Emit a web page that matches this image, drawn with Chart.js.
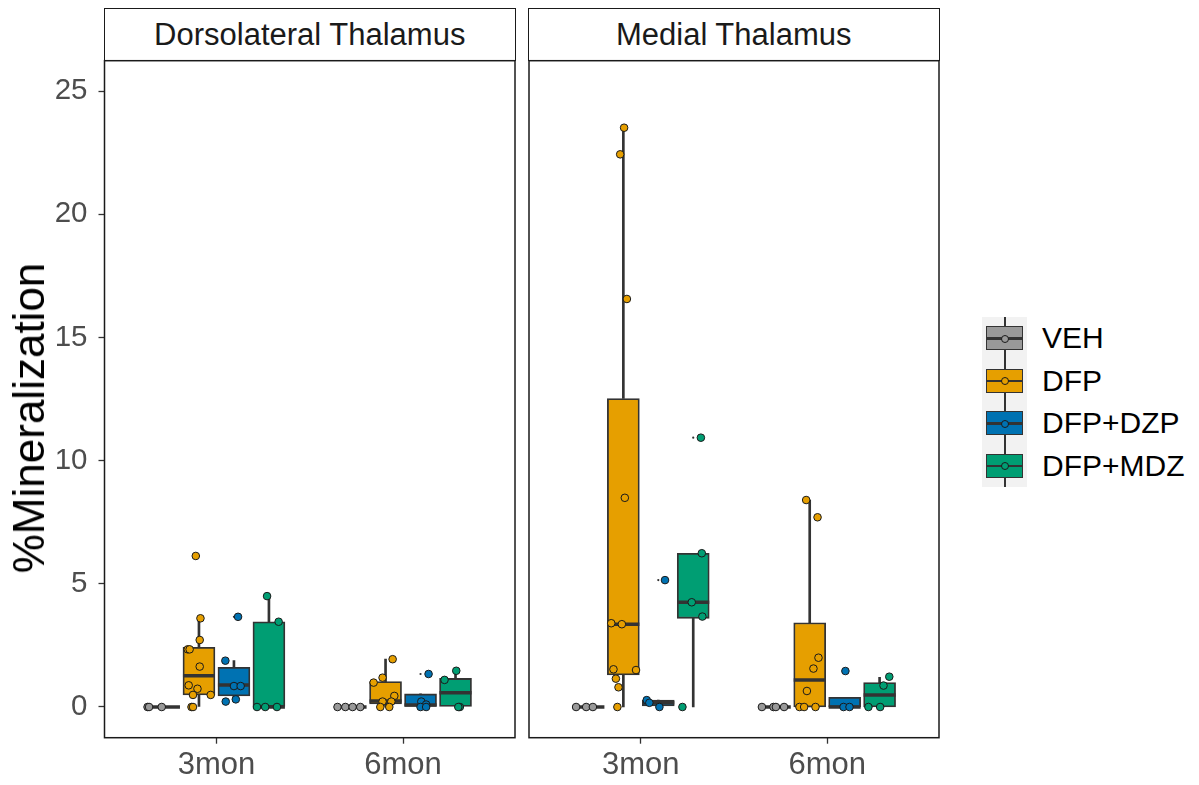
<!DOCTYPE html>
<html><head><meta charset="utf-8">
<script src="https://cdn.jsdelivr.net/npm/chart.js@4/dist/chart.umd.min.js"></script>
<style>
html,body{margin:0;padding:0;background:#fff;}
body{width:1199px;height:785px;position:relative;overflow:hidden;font-family:"Liberation Sans",Arial,sans-serif;}
.strip{position:absolute;top:8px;height:53px;box-sizing:border-box;border:1.5px solid #1a1a1a;background:#fff;
  display:flex;align-items:center;justify-content:center;font-size:31px;color:#1a1a1a;}
.cv{position:absolute;top:59px;}
#ytitle{position:absolute;left:29px;top:418px;transform:translate(-50%,-50%) rotate(-90deg);font-size:44px;color:#000;white-space:nowrap;}
#legendBg{position:absolute;left:982px;top:317px;width:45px;height:170px;background:#f2f2f2;}
.key{position:absolute;left:982px;width:45px;height:42.5px;}
.kw{position:absolute;left:21.5px;top:0;width:2px;height:100%;background:#333;}
.kb{position:absolute;left:4px;width:37px;top:9px;height:24px;box-sizing:border-box;border:1.8px solid #333;}
.km{position:absolute;left:4px;width:37px;top:20px;height:2.5px;background:#333;}
.kp{position:absolute;left:18.5px;top:17.5px;width:8px;height:8px;box-sizing:border-box;border-radius:50%;border:1px solid #1a1a1a;}
.kt{position:absolute;left:1042px;height:42.5px;line-height:42.5px;font-size:30px;color:#000;white-space:nowrap;}
</style>
</head><body>
<div class="strip" id="strip0" style="left:104px;width:411.5px;"></div>
<div class="strip" id="strip1" style="left:528px;width:411.5px;"></div>
<canvas id="c0" class="cv" style="left:0px;width:521px;height:726px;" width="521" height="726"></canvas>
<canvas id="c1" class="cv" style="left:523px;width:422px;height:726px;" width="422" height="726"></canvas>
<div id="ytitle">%Mineralization</div>
<div id="legendBg"></div>
<script>
// ---------- data ----------
const categories = ['3mon', '6mon'];
const groups = ['VEH', 'DFP', 'DFP+DZP', 'DFP+MDZ'];
const regions = ['Dorsolateral Thalamus', 'Medial Thalamus'];
const yTicks = [0, 5, 10, 15, 20, 25];
const groupColors = ['#999999', '#E69F00', '#0072B2', '#009E73'];

// Box statistics, one row per group, [3mon, 6mon]
const dlLow    = [[0, 0], [0, 0], [0.22, 0], [0, 0]];
const dlQ1     = [[0, 0], [0.49, 0.12], [0.45, 0], [0, 0]];
const dlMedian = [[0, 0], [1.27, 0.24], [0.89, 0.08], [0, 0.58]];
const dlQ3     = [[0, 0], [2.42, 1.03], [1.61, 0.53], [3.46, 1.16]];
const dlHigh   = [[0, 0], [3.6, 1.94], [1.88, 0.53], [4.5, 1.43]];
const dlOutliers = [[[], []], [[6.13], []], [[3.66], [1.34]], [[], []]];

const mtLow    = [[0, 0], [0, 0], [0, 0], [0, 0]];
const mtQ1     = [[0, 0], [1.3, 0], [0.04, 0], [3.6, 0]];
const mtMedian = [[0, 0], [3.36, 1.1], [0.17, 0], [4.25, 0.49]];
const mtQ3     = [[0, 0], [12.52, 3.42], [0.28, 0.39], [6.24, 0.99]];
const mtHigh   = [[0, 0], [23.51, 8.4], [0.28, 0.39], [6.24, 1.2]];
const mtOutliers = [[[], []], [[], []], [[5.15], [1.46]], [[10.93], []]];

// Individual animals, [3mon values, 6mon values]
const dlVEH = [[0, 0, 0], [0, 0, 0, 0]];
const dlDFP = [[6.13, 3.6, 2.72, 2.34, 2.34, 1.64, 0.88, 0.74, 0.49, 0.49, 0, 0], [1.94, 1.19, 0.99, 0.45, 0.22, 0.22, 0, 0]];
const dlDZP = [[3.66, 1.88, 0.85, 0.85, 0.31, 0.22], [1.34, 0.22, 0.1, 0, 0]];
const dlMDZ = [[4.5, 3.46, 0, 0, 0], [1.47, 1.1, 0, 0]];
const mtVEH = [[0, 0, 0], [0, 0, 0, 0]];
const mtDFP = [[23.51, 22.43, 16.56, 8.49, 3.40, 3.36, 1.53, 1.50, 1.15, 0.80, 0], [8.4, 7.7, 2.0, 1.56, 0.65, 0, 0, 0]];
const mtDZP = [[5.15, 0.28, 0.17, 0], [1.46, 0, 0]];
const mtMDZ = [[10.93, 6.24, 4.25, 3.67, 0], [1.23, 0.87, 0, 0]];

// Horizontal jitter of each point (x units)
const dlVEHjit = [[-0.088, -0.012, -0.08], [-0.07, -0.028, 0.011, 0.052]];
const dlDFPjit = [[-0.017, 0.008, 0.004, -0.06, -0.05, 0.004, -0.055, -0.008, -0.032, 0.063, -0.04, -0.032], [0.038, -0.016, -0.064, 0.047, -0.016, 0.031, -0.028, 0.02]];
const dlDZPjit = [[0.022, -0.046, 0, 0.036, 0.01, -0.044], [0.043, 0.004, 0.03, 0, 0.03]];
const dlMDZjit = [[-0.01, 0.052, -0.064, 0.043, -0.02], [0.004, -0.059, 0.023, 0.015]];
const mtVEHjit = [[-0.066, -0.012, 0.024], [-0.069, -0.007, 0.006, 0.05]];
const mtDFPjit = [[0.004, -0.017, 0.019, 0.008, -0.065, -0.008, -0.053, 0.068, -0.04, -0.026, -0.032], [-0.019, 0.042, 0.047, 0.02, -0.015, -0.055, -0.03, 0.031]];
const mtDZPjit = [[0.036, -0.062, -0.048, 0.006], [0.004, -0.006, 0.026]];
const mtMDZjit = [[0.041, 0.046, -0.008, 0.049, -0.058], [0.052, 0.021, -0.06, 0.003]];

// ---------- layout / style ----------
const dodgeWidth = 0.75;
const FONT = '"Liberation Sans", Arial, sans-serif';
function groupPos(c, g) {
  const slot = dodgeWidth / groups.length;
  return (c + 1) - dodgeWidth / 2 + slot * (g + 0.5);
}

const borderPlugin = {
  id: 'panelBorder',
  afterDraw(chart) {
    const a = chart.chartArea, ctx = chart.ctx;
    ctx.save();
    ctx.strokeStyle = '#1a1a1a';
    ctx.lineWidth = 1.5;
    ctx.strokeRect(a.left, a.top, a.right - a.left, a.bottom - a.top);
    ctx.restore();
  }
};

function noPad(s) { s.paddingTop = 0; s.paddingBottom = 0; s.paddingLeft = 0; s.paddingRight = 0; }

function makePanel(id, low, q1, med, q3, high, outl, pts, jits, showY) {
  const whisk = [], medians = [], outDots = [];
  const boxes = groups.map(() => []);
  const pointSets = groups.map(() => []);
  for (let g = 0; g < groups.length; g++) {
    for (let c = 0; c < categories.length; c++) {
      const x = groupPos(c, g);
      whisk.push({x: x, y: [low[g][c], q1[g][c]]});
      whisk.push({x: x, y: [q3[g][c], high[g][c]]});
      boxes[g].push({x: x, y: [q1[g][c], q3[g][c]]});
      medians.push({x: x, y: med[g][c]});
      outl[g][c].forEach(v => outDots.push({x: x, y: v}));
      pts[g][c].forEach((v, i) => pointSets[g].push({x: x + jits[g][c][i], y: v}));
    }
  }
  const datasets = [];
  datasets.push({type: 'bar', label: 'whiskers', data: whisk, backgroundColor: '#333333',
    borderWidth: 0, barThickness: 2, grouped: false, order: 6});
  groups.forEach((gname, g) => datasets.push({type: 'bar', label: gname + ' box', data: boxes[g],
    backgroundColor: groupColors[g], borderColor: '#333333', borderWidth: 1.8, borderSkipped: false,
    barThickness: 32, grouped: false, order: 5}));
  datasets.push({type: 'scatter', label: 'medians', data: medians, pointStyle: 'line', pointRadius: 16,
    borderColor: '#333333', borderWidth: 3.5, order: 4});
  datasets.push({type: 'scatter', label: 'outliers', data: outDots, pointRadius: 1.1,
    backgroundColor: '#333333', borderWidth: 0, order: 3});
  groups.forEach((gname, g) => datasets.push({type: 'scatter', label: gname, data: pointSets[g],
    pointRadius: 3.8, backgroundColor: groupColors[g], borderColor: '#1a1a1a', borderWidth: 1, order: 1}));

  return new Chart(document.getElementById(id), {
    type: 'bar',
    data: {datasets: datasets},
    plugins: [borderPlugin],
    options: {
      responsive: false, animation: false, events: [],
      layout: {autoPadding: false,
        padding: showY ? {top: 1.7, right: 6, left: 0, bottom: 0} : {top: 1.7, right: 6, left: 6, bottom: 0}},
      plugins: {legend: {display: false}, tooltip: {enabled: false}, title: {display: false}},
      scales: {
        x: {
          type: 'linear', min: 0.4, max: 2.6, offset: false,
          afterBuildTicks: s => { s.ticks = categories.map((c, i) => ({value: i + 1})); },
          afterFit: s => { s.height = 47.3; noPad(s); },
          ticks: {autoSkip: false, maxRotation: 0, color: '#4d4d4d', padding: 3,
            font: {family: FONT, size: 31}, callback: (v, i) => categories[i]},
          grid: {display: true, drawOnChartArea: false, drawTicks: true, tickLength: 6, tickColor: '#333333', tickWidth: 1.3, offset: false},
          border: {display: false}
        },
        y: {
          type: 'linear', min: -1.246, max: 26.23, display: showY,
          afterBuildTicks: s => { s.ticks = yTicks.map(v => ({value: v})); },
          afterFit: s => { s.width = showY ? 104.5 : 0; noPad(s); },
          ticks: {color: '#4d4d4d', padding: 11, font: {family: FONT, size: 29.5}, callback: v => String(v)},
          grid: {display: true, drawOnChartArea: false, drawTicks: true, tickLength: 6, tickColor: '#333333', tickWidth: 1.3},
          border: {display: false}
        }
      }
    }
  });
}

document.getElementById('strip0').textContent = regions[0];
document.getElementById('strip1').textContent = regions[1];

makePanel('c0', dlLow, dlQ1, dlMedian, dlQ3, dlHigh, dlOutliers,
  [dlVEH, dlDFP, dlDZP, dlMDZ], [dlVEHjit, dlDFPjit, dlDZPjit, dlMDZjit], true);
makePanel('c1', mtLow, mtQ1, mtMedian, mtQ3, mtHigh, mtOutliers,
  [mtVEH, mtDFP, mtDZP, mtMDZ], [mtVEHjit, mtDFPjit, mtDZPjit, mtMDZjit], false);

// legend
groups.forEach((gname, g) => {
  const top = 317 + g * 42.5;
  const key = document.createElement('div');
  key.className = 'key'; key.style.top = top + 'px';
  key.innerHTML = '<div class="kw"></div><div class="kb" style="background:' + groupColors[g] + '"></div>' +
    '<div class="km"></div><div class="kp" style="background:' + groupColors[g] + '"></div>';
  document.body.appendChild(key);
  const t = document.createElement('div');
  t.className = 'kt'; t.style.top = top + 'px'; t.textContent = gname;
  document.body.appendChild(t);
});
</script>
</body></html>
